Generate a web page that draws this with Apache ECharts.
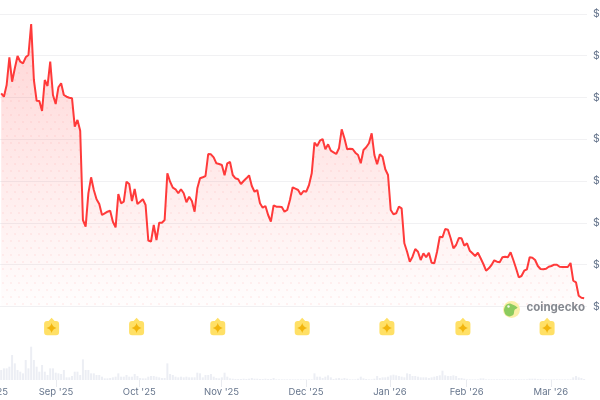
<!DOCTYPE html>
<html>
<head>
<meta charset="utf-8">
<style>
* { margin: 0; padding: 0; }
body { background: #fff; overflow: hidden; }
#main { width: 600px; height: 400px; }
</style>
<script src="https://cdn.jsdelivr.net/npm/echarts@6/dist/echarts.min.js"></script>
</head>
<body>
<div id="main"></div>
<script>
// price, one point a day (no readable scale, the $ labels are cut off)
const price = [
    213.2,209.8,221.5,249.2,224.8,238.2,250.5,244.8,243.2,249.2,
    251.5,282.5,226.5,205.8,205.5,195.5,226.5,220.5,244.8,211.5,
    202.5,219.2,223.2,211.5,209.8,208.8,208.2,179.8,186.5,175.8,
    86.5,79.8,113.2,129.2,116.5,107.2,102.5,91.5,93.2,94.8,
    95.8,84.8,79.2,112.5,103.2,104.8,124.8,122.5,105.5,117.5,
    102.5,104.8,107.2,101.5,66,65,81.5,66.5,83.8,83.8,
    86.5,133.2,124.8,118.8,117.2,113.2,117.2,113.2,104.2,109.8,
    105.5,94.8,118.2,128.2,129.2,130.5,152.5,152.2,149.2,143.2,
    142.5,141.5,131.2,143.2,144.5,131.5,128.2,127.2,122.5,125.5,
    128.2,131.2,120.5,114.8,116.5,103.2,98.8,100.5,91.5,84.8,
    101.2,99.8,99.8,99.5,94.8,96.5,106.5,119.2,117.8,116.5,
    111.8,115.5,114.8,121.5,133.2,163.8,160.5,165.8,167.5,157.2,
    162.2,155.8,154.2,152.5,158.2,177.2,168.2,157.2,157.8,157.5,
    153.8,151.5,143.2,156.5,159.2,163.2,173.2,151.5,142.2,152.2,
    149.8,137.2,131.5,96.5,92.2,93.2,99.8,98.2,63.2,54.8,
    44.8,49.8,57.5,54.8,46.5,53.2,49.2,53.8,43.8,43.2,
    54.8,69.8,69.2,77.5,76.8,68.2,58.2,61.5,68.5,68.2,
    60.8,63.2,55.8,53.2,50.5,53.8,48.2,42.5,35.8,38.2,
    41.5,46.2,44.8,44.2,49.2,49.8,49.2,54.2,46.5,38.2,
    29.2,30.5,35.8,37.2,49.2,48.8,46.5,40.5,37.5,37.2,
    37.8,39.8,40.5,41.8,41.8,39.8,39.5,39.5,39.5,43.5,
    25.8,24.2,10.8,8.8,8.2
]
const volume = [
    30,35,35,40,75,50,30,25,20,60,
    35,100,60,40,25,45,25,15,35,35,
    22,20,18,30,8,8,12,25,25,15,
    62,30,30,20,20,15,15,10,5,5,
    6,8,10,20,10,10,15,10,10,18,
    12,6,5,5,10,12,12,10,8,6,
    6,50,18,15,10,8,10,8,10,8,
    8,8,22,20,8,15,15,18,10,6,
    5,8,22,10,5,4,3,3,3,4,
    3,4,6,4,4,3,3,4,3,3,
    6,2,2,2,2,2,2,2,2,2,
    2,2,2,2,2,20,10,10,6,10,
    14,8,3,5,6,4,6,4,2,2,
    2,4,10,5,3,2,2,4,12,6,
    8,8,10,14,16,14,12,10,8,20,
    18,12,12,10,8,8,8,6,8,10,
    12,14,28,14,12,12,14,12,6,6,
    4,2,2,2,2,2,5,5,2,2,
    2,2,2,2,2,2,2,2,2,2,
    2,2,2,2,4,4,4,3,3,2,
    2,2,2,2,2,2,2,2,2,2,
    8,12,8,6,3
]
const monthLabels = ["Aug '25", "Sep '25", "Oct '25", "Nov '25", "Dec '25", "Jan '26", "Feb '26", "Mar '26"]
const monthDays = [-3.9, 20.1, 50.7, 80.9, 111.9, 142.7, 170.9, 201.8]
const eventDays = [18.5, 49.7, 79.5, 110.5, 141.6, 169.5, 200.4]

const xMin = -5
const xMax = 215.05
const lineData = price.map((v, i) => [i, v])
const volData = volume.map((v, i) => [i, v])
const eventData = eventDays.map(d => [d, 0.5])

// dotted texture over the area
const tile = document.createElement('canvas')
tile.width = 16
tile.height = 14
const ctx = tile.getContext('2d')
ctx.fillStyle = 'rgba(255,70,70,0.08)'
;[[3, 3], [11, 3], [7, 10], [15, 10]].forEach(p => {
    ctx.beginPath()
    ctx.arc(p[0], p[1], 1.1, 0, Math.PI * 2)
    ctx.fill()
})

const badge = 'path://M7.5 0L10.5 3.3H12Q15 3.3 15 6.3V14.5Q15 17.5 12 17.5H3Q0 17.5 0 14.5V6.3Q0 3.3 3 3.3H4.5Z'
const star = 'path://M5 0Q5.9 4.1 10 5Q5.9 5.9 5 10Q4.1 5.9 0 5Q4.1 4.1 5 0Z'
const font = 'Inter'

const chart = echarts.init(document.getElementById('main'))
chart.setOption({
    animation: false,
    backgroundColor: '#fff',
    grid: [
        { left: -12.42, right: 13, top: 13.9, height: 292.6, outerBoundsMode: 'none' },
        { left: -12.42, right: 13, top: 316.4, height: 20, outerBoundsMode: 'none' },
        { left: -12.42, right: 13, top: 346.7, height: 33.3, outerBoundsMode: 'none' }
    ],
    xAxis: [
        { gridIndex: 0, type: 'value', min: xMin, max: xMax, show: false, splitLine: { show: false } },
        { gridIndex: 1, type: 'value', min: xMin, max: xMax, show: false, splitLine: { show: false } },
        {
            gridIndex: 2, type: 'value', min: xMin, max: xMax,
            axisLine: { show: false },
            splitLine: { show: false },
            axisTick: { show: true, length: 7, customValues: monthDays, lineStyle: { color: '#e9ebf0' } },
            axisLabel: {
                customValues: monthDays,
                margin: 7,
                fontFamily: font,
                fontSize: 9.5,
                color: '#66758c',
                showMinLabel: true,
                showMaxLabel: true,
                formatter: v => monthLabels[monthDays.indexOf(v)]
            }
        }
    ],
    yAxis: [
        {
            gridIndex: 0, type: 'value', position: 'right', min: 0, max: 292.6, interval: 41.8,
            axisLine: { show: false },
            axisTick: { show: false },
            splitLine: { lineStyle: { color: '#f1f1f3', width: 1 } },
            axisLabel: {
                margin: 6,
                fontFamily: font,
                fontSize: 10.5,
                color: '#66758c',
                formatter: () => '$'
            }
        },
        { gridIndex: 1, type: 'value', min: 0, max: 1, show: false },
        { gridIndex: 2, type: 'value', min: 0, max: 100, show: false }
    ],
    series: [
        {
            type: 'line', data: lineData, showSymbol: false, silent: true, z: 1,
            lineStyle: { width: 0 },
            areaStyle: { color: { image: tile, repeat: 'repeat' }, opacity: 1 }
        },
        {
            type: 'line', data: lineData, showSymbol: false, z: 2,
            lineStyle: { color: '#ff3a3a', width: 2 },
            areaStyle: {
                color: new echarts.graphic.LinearGradient(0, 0, 0, 1, [
                    { offset: 0, color: 'rgba(255,58,58,0.3)' },
                    { offset: 1, color: 'rgba(255,58,58,0.01)' }
                ])
            }
        },
        {
            type: 'scatter', xAxisIndex: 1, yAxisIndex: 1, data: eventData, z: 3,
            symbol: badge, symbolSize: [15, 17.5], itemStyle: { color: '#ffe066', opacity: 1 }
        },
        {
            type: 'scatter', xAxisIndex: 1, yAxisIndex: 1, data: eventData, z: 4,
            symbol: star, symbolSize: 10, symbolOffset: [0, 1.5], itemStyle: { color: '#f2b50d', opacity: 1 }
        },
        {
            type: 'bar', xAxisIndex: 2, yAxisIndex: 2, data: volData, barWidth: 2,
            itemStyle: { color: '#eceef4' }
        }
    ],
    graphic: [
        { type: 'circle', shape: { cx: 511.5, cy: 309.5, r: 8.5 }, style: { fill: '#fbefa8' }, z: 10 },
        {
            type: 'polygon', z: 11,
            shape: { points: [[504, 310], [506, 305], [510, 303.5], [517.5, 307.5], [514.5, 310], [513.5, 314.5], [509.5, 316.5], [505.5, 314.5]], smooth: 0.25 },
            style: { fill: '#8ccb5e' }
        },
        { type: 'circle', shape: { cx: 508.5, cy: 306.5, r: 1.2 }, style: { fill: '#f4f7ee' }, z: 12 },
        {
            type: 'text', x: 526.5, y: 302, z: 12,
            style: { text: 'coingecko', fontFamily: font, fontWeight: 'bold', fontSize: 11.5, fill: '#85888f' }
        }
    ]
})
</script>
</body>
</html>
